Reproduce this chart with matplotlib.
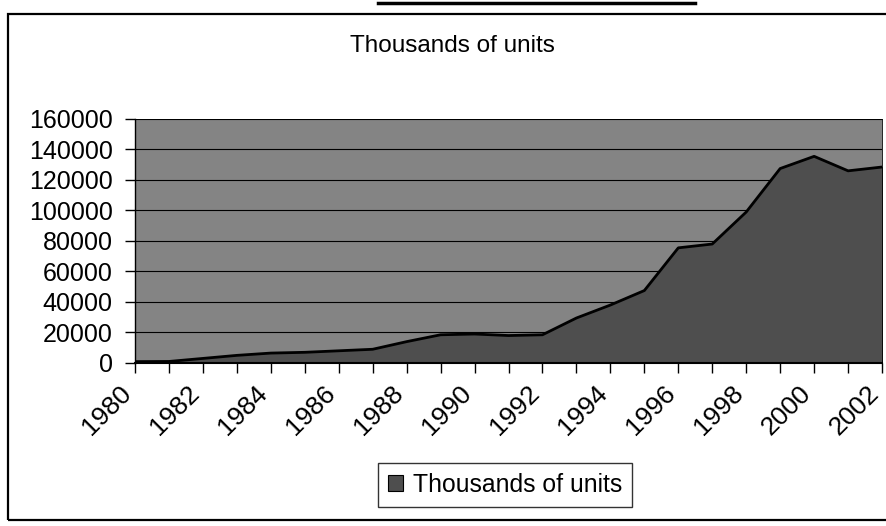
import matplotlib
matplotlib.use("Agg")
import matplotlib.pyplot as plt
import matplotlib.transforms as mtransforms
from matplotlib.patches import Patch, Rectangle
from matplotlib.lines import Line2D

plt.rcParams['font.family'] = ['Liberation Sans', 'DejaVu Sans']

# -------------------------------
# Data
# -------------------------------
years = list(range(1980, 2003))
units = [900, 1000, 3000, 5000, 6500, 7000, 8000, 9000, 14000, 18500, 19000,
         18000, 18500, 29500, 38000, 47500, 75500, 78000, 99000, 127500,
         135500, 126000, 128500]
series_name = "Thousands of units"
y_ticks = list(range(0, 160001, 20000))

BG_GREY = "#848484"
FILL_GREY = "#4e4e4e"

# -------------------------------
# Figure / axes
# -------------------------------
fig = plt.figure(figsize=(8.87, 5.26), dpi=100)
ax = fig.add_axes([0.1522, 0.3099, 0.8422, 0.4639])
ax.set_facecolor(BG_GREY)

ax.set_xlim(1980, 2002)
ax.set_ylim(0, 160000)

for yv in y_ticks[1:]:
    ax.axhline(yv, color="black", lw=0.8, zorder=1)

ax.fill_between(years, units, 0, color=FILL_GREY, zorder=2)
ax.plot(years, units, color="black", lw=2, zorder=3)

ax.set_yticks(y_ticks)
ax.set_yticklabels([str(v) for v in y_ticks], fontsize=18)
ax.set_xticks(years)
ax.set_xticklabels([str(y) if y % 2 == 0 else "" for y in years],
                   fontsize=19, rotation=45, ha="right", va="center",
                   rotation_mode="anchor")
ax.tick_params(axis="y", length=7, width=1, pad=9)
ax.tick_params(axis="x", length=7, width=1, pad=12)

# shift the rotated year labels a little to the left of their ticks
shift = mtransforms.ScaledTranslation(-7 / 100, 0, fig.dpi_scale_trans)
for lab in ax.get_xticklabels():
    lab.set_transform(lab.get_transform() + shift)

for side in ["top", "right"]:
    ax.spines[side].set_linewidth(0.6)
ax.spines["left"].set_linewidth(1)
ax.spines["bottom"].set_linewidth(1.5)

# -------------------------------
# Title, border, legend
# -------------------------------
fig.text(0.5096, 0.9125, series_name, ha="center", va="center", fontsize=17.5)

fig.add_artist(Rectangle((0.009, 0.0114), 1.2, 0.962, transform=fig.transFigure,
                         fill=False, edgecolor="black", lw=1.6))
fig.add_artist(Line2D([0.426, 0.7835], [0.9943, 0.9943], transform=fig.transFigure,
                      color="black", lw=2.5))

handle = Patch(facecolor=FILL_GREY, edgecolor="black", lw=0.8)
leg = fig.legend([handle], [series_name], loc="center",
                 bbox_to_anchor=(0.5693, 0.078), fontsize=17.8,
                 frameon=True, fancybox=False, handlelength=0.6,
                 handleheight=0.6, handletextpad=0.4, borderpad=0.4)
leg.get_frame().set_edgecolor("black")
leg.get_frame().set_linewidth(1)

plt.savefig("out.png", dpi=100)
plt.close()
